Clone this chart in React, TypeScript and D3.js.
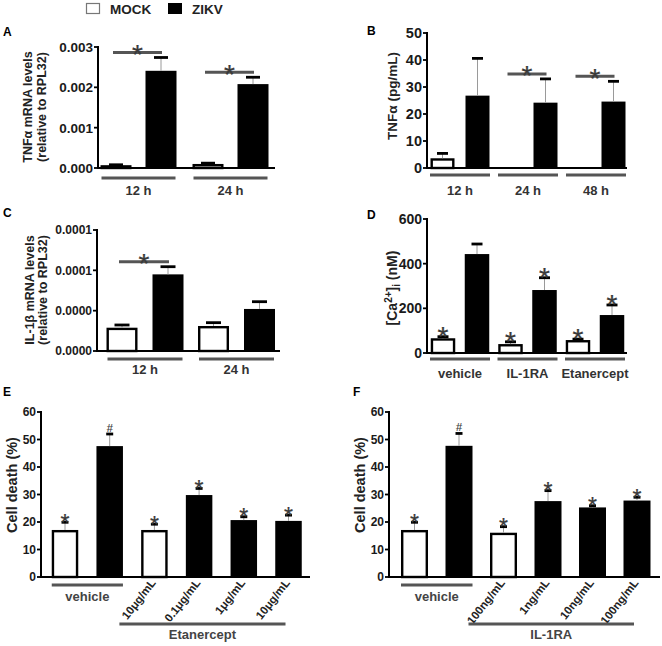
import React from "react";
import * as d3 from "d3";

const FONT = "'Liberation Sans', Arial, Helvetica, sans-serif";

// ---------- Data ----------
// Panel A
const groupsA = ["12 h", "24 h"];
const mockA = [0.00007, 0.0001];
const mockAErr = [0.00001, 0.00002];
const zikvA = [0.00241, 0.00208];
const zikvAErr = [0.00033, 0.00017];
const ticksA = [0, 0.001, 0.002, 0.003];
const tickLabelsA = ["0.000", "0.001", "0.002", "0.003"];
const sigA = [0, 1];

// Panel B
const groupsB = ["12 h", "24 h", "48 h"];
const mockB = [3.6, 0, 0];
const mockBErr = [1.8, 0, 0];
const zikvB = [26.8, 24.2, 24.6];
const zikvBErr = [13.8, 8.8, 7.5];
const ticksB = [0, 10, 20, 30, 40, 50];
const tickLabelsB = ["0", "10", "20", "30", "40", "50"];
const sigB = [1, 2];

// Panel C
const groupsC = ["12 h", "24 h"];
const mockC = [0.0000231, 0.0000248];
const mockCErr = [0.0000027, 0.0000033];
const zikvC = [0.000076, 0.0000417];
const zikvCErr = [0.0000076, 0.0000072];
const ticksC = [0, 0.00004, 0.00008, 0.00012];
const tickLabelsC = ["0.0000", "0.0000", "0.0001", "0.0001"];
const sigC = [0];

// Panel D
const groupsD = ["vehicle", "IL-1RA", "Etanercept"];
const mockD = [66, 40, 58];
const mockDErr = [7, 10, 4];
const zikvD = [443, 282, 170];
const zikvDErr = [45, 55, 45];
const ticksD = [0, 200, 400, 600];
const tickLabelsD = ["0", "200", "400", "600"];
const starsMockD = [0, 1, 2];
const starsZikvD = [1, 2];

// Panel E
const valuesE = [17.1, 47.6, 17.1, 29.8, 20.7, 20.4];
const errE = [2.8, 4.4, 2.1, 2.4, 1.2, 2.1];
const infectedE = [false, true, false, true, true, true];
const marksE = ["*", "#", "*", "*", "*", "*"];
const doseLabelsE = ["", "", "10\u03BCg/mL", "0.1\u03BCg/mL", "1\u03BCg/mL", "10\u03BCg/mL"];
const treatmentE = "Etanercept";

// Panel F
const valuesF = [17.1, 47.7, 16.1, 27.6, 25.3, 27.8];
const errF = [2.8, 4.5, 2.2, 3.8, 0.6, 1.2];
const infectedF = [false, true, false, true, true, true];
const marksF = ["*", "#", "*", "*", "*", "*"];
const doseLabelsF = ["", "", "100ng/mL", "1ng/mL", "10ng/mL", "100ng/mL"];
const treatmentF = "IL-1RA";

const ticksEF = [0, 10, 20, 30, 40, 50, 60];
const tickLabelsEF = ["0", "10", "20", "30", "40", "50", "60"];

// ---------- helpers ----------
function Star({ x, cy, size = 24, ch = "*" }: any) {
  const off = ch === "#" ? size * 0.36 : size * 0.585;
  return (
    <text x={x} y={cy + off} textAnchor="middle" fontFamily={FONT}
      fontSize={size} fill="#3a3a3a" stroke="#3a3a3a" strokeWidth={ch === "#" ? 0.15 : 0.25}>{ch}</text>
  );
}

function Bar({ cx, v, e, yS, yBot, bw, capW, infected }: any) {
  if (v <= 0) return null;
  const yt = yS(v);
  const yc = yS(v + e);
  return (
    <g>
      {infected ? (
        <rect x={cx - bw / 2} y={yt} width={bw} height={yBot - yt} fill="#000" />
      ) : (
        <rect x={cx - bw / 2 + 1.2} y={yt + 1.2} width={bw - 2.4} height={Math.max(0, yBot - yt - 1.2)}
          fill="#fff" stroke="#000" strokeWidth={2.4} />
      )}
      <line x1={cx} x2={cx} y1={yt} y2={yc} stroke="#9a9a9a" strokeWidth={1} />
      <line x1={cx - capW / 2} x2={cx + capW / 2} y1={yc} y2={yc} stroke="#000" strokeWidth={2.8} />
    </g>
  );
}

function YAxis({ axisX, yS, yTop, yBot, xEnd, ticks, labels, tickFont }: any) {
  return (
    <g>
      {ticks.map((t: number, i: number) => (
        <g key={i}>
          <line x1={axisX - 4} x2={axisX} y1={yS(t)} y2={yS(t)} stroke="#000" strokeWidth={1.8} />
          <text x={axisX - 5} y={yS(t) + tickFont * 0.36} textAnchor="end" fontFamily={FONT}
            fontWeight="bold" fontSize={tickFont} fill="#1a1a1a">{labels[i]}</text>
        </g>
      ))}
      <line x1={axisX} x2={axisX} y1={yTop - 1} y2={yBot} stroke="#000" strokeWidth={2} />
      <line x1={axisX - 1} x2={xEnd} y1={yBot} y2={yBot} stroke="#000" strokeWidth={2} />
    </g>
  );
}

function Grouped({ p, groups, mock, mockErr, zikv, zikvErr, sig = [], starsMock = [], starsZikv = [] }: any) {
  const yS = d3.scaleLinear().domain(p.domain).range([p.yBot, p.yTop]);
  const gx = d3.scaleLinear().domain([0, 1]).range([p.g0, p.g0 + p.gStep]);
  return (
    <g>
      {groups.map((g: string, i: number) => {
        const mx = gx(i) - p.off;
        const zx = gx(i) + p.off;
        return (
          <g key={i}>
            <Bar cx={mx} v={mock[i]} e={mockErr[i]} yS={yS} yBot={p.yBot} bw={p.bw} capW={p.capW} infected={false} />
            <Bar cx={zx} v={zikv[i]} e={zikvErr[i]} yS={yS} yBot={p.yBot} bw={p.bw} capW={p.capW} infected={true} />
            <line x1={gx(i) - p.lineHalf} x2={gx(i) + p.lineHalf} y1={p.lineY} y2={p.lineY} stroke="#555" strokeWidth={3} />
            <text x={gx(i)} y={p.labelY} textAnchor="middle" fontFamily={FONT} fontWeight="bold"
              fontSize={p.labelFont} fill="#333">{g}</text>
          </g>
        );
      })}
      {sig.map((i: number) => {
        const mx = gx(i) - p.off;
        const zx = gx(i) + p.off;
        const ly = yS(zikv[i] + zikvErr[i]) - 5;
        return (
          <g key={"s" + i}>
            <line x1={mx - 3} x2={zx + 1} y1={ly} y2={ly} stroke="#555" strokeWidth={3} />
            <Star x={(mx + zx) / 2 - 1} cy={ly - 5} size={p.starSize} />
          </g>
        );
      })}
      {starsMock.map((i: number) => (
        <Star key={"m" + i} x={gx(i) - p.off} cy={yS(mock[i] + mockErr[i]) - 7.5} size={p.starSize} />
      ))}
      {starsZikv.map((i: number) => (
        <Star key={"z" + i} x={gx(i) + p.off} cy={yS(zikv[i] + zikvErr[i]) - 7.5} size={p.starSize} />
      ))}
      <YAxis axisX={p.axisX} yS={yS} yTop={p.yTop} yBot={p.yBot} xEnd={p.xEnd} ticks={p.ticks}
        labels={p.tickLabels} tickFont={p.tickFont} />
    </g>
  );
}

function Sequential({ p, values, errs, infected, marks, doseLabels, treatment }: any) {
  const yS = d3.scaleLinear().domain([0, 60]).range([p.yBot, p.yTop]);
  const bx = d3.scaleLinear().domain([0, 1]).range([p.x0, p.x0 + p.step]);
  const n = values.length;
  const vehL = bx(0) - p.bw / 2;
  const vehR = bx(1) + p.bw / 2;
  const trL = bx(2) - 35;
  const trR = bx(n - 1) - 3;
  return (
    <g>
      {values.map((v: number, i: number) => (
        <g key={i}>
          <Bar cx={bx(i)} v={v} e={errs[i]} yS={yS} yBot={p.yBot} bw={p.bw} capW={p.capW} infected={infected[i]} />
          <Star x={bx(i)} cy={yS(v + errs[i]) - (marks[i] === "#" ? 6 : 5)} size={marks[i] === "#" ? 11 : 23} ch={marks[i]} />
          {doseLabels[i] ? (
            <text transform={`translate(${bx(i) + 2},${p.yBot + 6}) rotate(-52)`} textAnchor="end"
              fontFamily={FONT} fontWeight="bold" fontSize={11.5} fill="#222">{doseLabels[i]}</text>
          ) : null}
        </g>
      ))}
      <line x1={vehL} x2={vehR} y1={p.yBot + 8} y2={p.yBot + 8} stroke="#555" strokeWidth={3} />
      <text x={(vehL + vehR) / 2} y={p.yBot + 24} textAnchor="middle" fontFamily={FONT} fontWeight="bold"
        fontSize={13} fill="#444">vehicle</text>
      <line x1={trL} x2={trR} y1={p.yBot + 47} y2={p.yBot + 47} stroke="#555" strokeWidth={3} />
      <text x={(trL + trR) / 2} y={p.yBot + 62} textAnchor="middle" fontFamily={FONT} fontWeight="bold"
        fontSize={13} fill="#444">{treatment}</text>
      <YAxis axisX={p.axisX} yS={yS} yTop={p.yTop} yBot={p.yBot} xEnd={p.xEnd} ticks={ticksEF}
        labels={tickLabelsEF} tickFont={12} />
      <text transform={`translate(${p.titleX},485) rotate(-90)`} textAnchor="middle" fontFamily={FONT}
        fontWeight="bold" fontSize={14.5} fill="#222">Cell death (%)</text>
    </g>
  );
}

const pA = { axisX: 98, yTop: 47, yBot: 168, xEnd: 275, domain: [0, 0.003], ticks: ticksA, tickLabels: tickLabelsA,
  tickFont: 13.5, g0: 138.5, gStep: 92, off: 22.5, bw: 31, capW: 14, lineHalf: 37, lineY: 178, labelY: 195, labelFont: 13, starSize: 28 };
const pB = { axisX: 427, yTop: 33, yBot: 168, xEnd: 627, domain: [0, 50], ticks: ticksB, tickLabels: tickLabelsB,
  tickFont: 14.5, g0: 460, gStep: 68, off: 17.5, bw: 24, capW: 11, lineHalf: 30, lineY: 175, labelY: 195, labelFont: 13, starSize: 28 };
const pC = { axisX: 97, yTop: 230, yBot: 351, xEnd: 280, domain: [0, 0.00012], ticks: ticksC, tickLabels: tickLabelsC,
  tickFont: 12, g0: 145, gStep: 91.5, off: 23, bw: 31, capW: 15, lineHalf: 37.5, lineY: 359, labelY: 374, labelFont: 13, starSize: 28 };
const pD = { axisX: 427, yTop: 219, yBot: 353, xEnd: 627, domain: [0, 600], ticks: ticksD, tickLabels: tickLabelsD,
  tickFont: 14, g0: 460, gStep: 67.5, off: 17, bw: 24.5, capW: 11, lineHalf: 30, lineY: 359, labelY: 378, labelFont: 13, starSize: 28 };
const pE = { axisX: 41, yTop: 412, yBot: 577, xEnd: 310, x0: 65, step: 44.7, bw: 26.5, capW: 7, titleX: 17 };
const pF = { axisX: 389, yTop: 412, yBot: 577, xEnd: 660, x0: 414.5, step: 44.5, bw: 27, capW: 7, titleX: 365 };

function PanelLabel({ x, y, t }: any) {
  return <text x={x} y={y} fontFamily={FONT} fontWeight="bold" fontSize={12} fill="#000">{t}</text>;
}

export default function App() {
  return (
    <svg width={662} height={646} style={{ position: "absolute", left: 0, top: 0, background: "#fff" }}>
      <rect x={0} y={0} width={662} height={646} fill="#fff" />
      {/* Legend */}
      <rect x={86.5} y={3.5} width={13} height={10} fill="#fff" stroke="#777" strokeWidth={1.2} />
      <text x={110} y={14} fontFamily={FONT} fontWeight="bold" fontSize={13.5} fill="#222">MOCK</text>
      <rect x={168} y={3} width={14} height={11} fill="#000" />
      <text x={192} y={14} fontFamily={FONT} fontWeight="bold" fontSize={13.5} fill="#222">ZIKV</text>

      <PanelLabel x={3} y={36} t="A" />
      <PanelLabel x={367} y={35} t="B" />
      <PanelLabel x={3} y={217} t="C" />
      <PanelLabel x={367} y={219} t="D" />
      <PanelLabel x={3} y={396} t="E" />
      <PanelLabel x={353} y={396} t="F" />

      <Grouped p={pA} groups={groupsA} mock={mockA} mockErr={mockAErr} zikv={zikvA} zikvErr={zikvAErr} sig={sigA} />
      <text transform="translate(32,107) rotate(-90)" textAnchor="middle" fontFamily={FONT} fontWeight="bold" fontSize={12.5} fill="#222">TNF&#945; mRNA levels</text>
      <text transform="translate(46,107) rotate(-90)" textAnchor="middle" fontFamily={FONT} fontWeight="bold" fontSize={12.5} fill="#222">(relative to RPL32)</text>

      <Grouped p={pB} groups={groupsB} mock={mockB} mockErr={mockBErr} zikv={zikvB} zikvErr={zikvBErr} sig={sigB} />
      <text transform="translate(397,96) rotate(-90)" textAnchor="middle" fontFamily={FONT} fontWeight="bold" fontSize={13.5} fill="#222">TNF&#945; (pg/mL)</text>

      <Grouped p={pC} groups={groupsC} mock={mockC} mockErr={mockCErr} zikv={zikvC} zikvErr={zikvCErr} sig={sigC} />
      <text transform="translate(34,290) rotate(-90)" textAnchor="middle" fontFamily={FONT} fontWeight="bold" fontSize={12.5} fill="#222">IL-1&#946; mRNA levels</text>
      <text transform="translate(47,290) rotate(-90)" textAnchor="middle" fontFamily={FONT} fontWeight="bold" fontSize={12.5} fill="#222">(relative to RPL32)</text>

      <Grouped p={pD} groups={groupsD} mock={mockD} mockErr={mockDErr} zikv={zikvD} zikvErr={zikvDErr}
        starsMock={starsMockD} starsZikv={starsZikvD} />
      <text transform="translate(397,288) rotate(-90)" textAnchor="middle" fontFamily={FONT} fontWeight="bold" fontSize={14} fill="#222">
        [Ca<tspan dy={-5} fontSize={10}>2+</tspan><tspan dy={5}>]</tspan><tspan dy={3} fontSize={10}>i</tspan><tspan dy={-3}> (nM)</tspan>
      </text>

      <Sequential p={pE} values={valuesE} errs={errE} infected={infectedE} marks={marksE} doseLabels={doseLabelsE} treatment={treatmentE} />
      <Sequential p={pF} values={valuesF} errs={errF} infected={infectedF} marks={marksF} doseLabels={doseLabelsF} treatment={treatmentF} />
    </svg>
  );
}
